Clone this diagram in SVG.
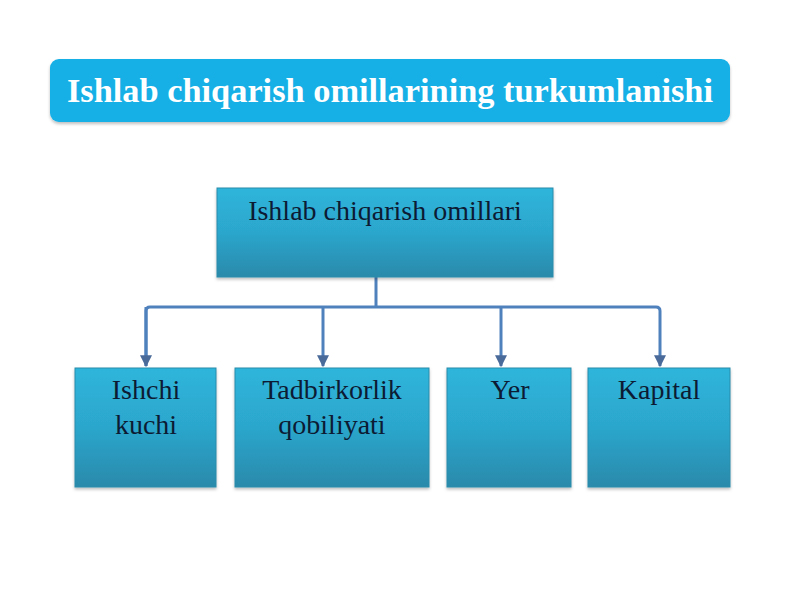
<svg xmlns="http://www.w3.org/2000/svg" width="800" height="600" viewBox="0 0 800 600">
  <style>
    .box { fill: url(#boxGrad); stroke: #2a8cab; stroke-width: 1; filter: url(#shadow); }
    .lbl { font-family: "Liberation Serif", "Times New Roman", serif; font-size: 28px; fill: #0c1b33; text-anchor: middle; }
    .title { font-family: "Liberation Serif", "Times New Roman", serif; font-size: 33px; font-weight: bold; fill: #ffffff; text-anchor: middle; }
    .conn { fill: none; stroke: #4f81bd; stroke-width: 3; stroke-linejoin: round; }
  </style>
  <defs>
    <linearGradient id="boxGrad" x1="0" y1="0" x2="0" y2="1">
      <stop offset="0" stop-color="#2fb5db"/>
      <stop offset="0.5" stop-color="#2ca6cc"/>
      <stop offset="1" stop-color="#2a8aab"/>
    </linearGradient>
    <filter id="shadow" x="-10%" y="-10%" width="120%" height="130%">
      <feDropShadow dx="0" dy="2" stdDeviation="1.5" flood-color="#000" flood-opacity="0.25"/>
    </filter>
    <marker id="arrow" viewBox="0 0 10 10" refX="9" refY="5" markerWidth="4" markerHeight="4" orient="auto" markerUnits="strokeWidth">
      <path d="M0,0 L10,5 L0,10 z" fill="#4a6a9a"/>
    </marker>
  </defs>
  <rect width="800" height="600" fill="#ffffff"/>

  <g id="title">
    <rect x="50" y="59" width="680" height="63" rx="9" fill="#14afe6" filter="url(#shadow)"/>
    <text class="title" x="390" y="102" textLength="646" lengthAdjust="spacingAndGlyphs">Ishlab chiqarish omillarining turkumlanishi</text>
  </g>

  <g id="connectors">
    <path class="conn" d="M376,277 V307"/>
    <path class="conn" d="M146,366 V311 Q146,307 150,307 H656 Q660,307 660,311 V366" marker-end="url(#arrow)"/>
    <path class="conn" d="M146,307 V366" marker-end="url(#arrow)"/>
    <path class="conn" d="M323,307 V366" marker-end="url(#arrow)"/>
    <path class="conn" d="M501,307 V366" marker-end="url(#arrow)"/>
  </g>

  <g id="root">
    <rect class="box" x="217" y="188" width="336" height="89"/>
    <text class="lbl" x="385" y="220">Ishlab chiqarish omillari</text>
  </g>

  <g id="ishchi-kuchi">
    <rect class="box" x="75" y="368" width="141" height="119"/>
    <text class="lbl" x="146" y="399">Ishchi</text>
    <text class="lbl" x="146" y="434">kuchi</text>
  </g>

  <g id="tadbirkorlik">
    <rect class="box" x="235" y="368" width="194" height="119"/>
    <text class="lbl" x="332" y="399">Tadbirkorlik</text>
    <text class="lbl" x="332" y="434">qobiliyati</text>
  </g>

  <g id="yer">
    <rect class="box" x="447" y="368" width="124" height="119"/>
    <text class="lbl" x="510" y="399">Yer</text>
  </g>

  <g id="kapital">
    <rect class="box" x="588" y="368" width="142" height="119"/>
    <text class="lbl" x="659" y="399">Kapital</text>
  </g>
</svg>
